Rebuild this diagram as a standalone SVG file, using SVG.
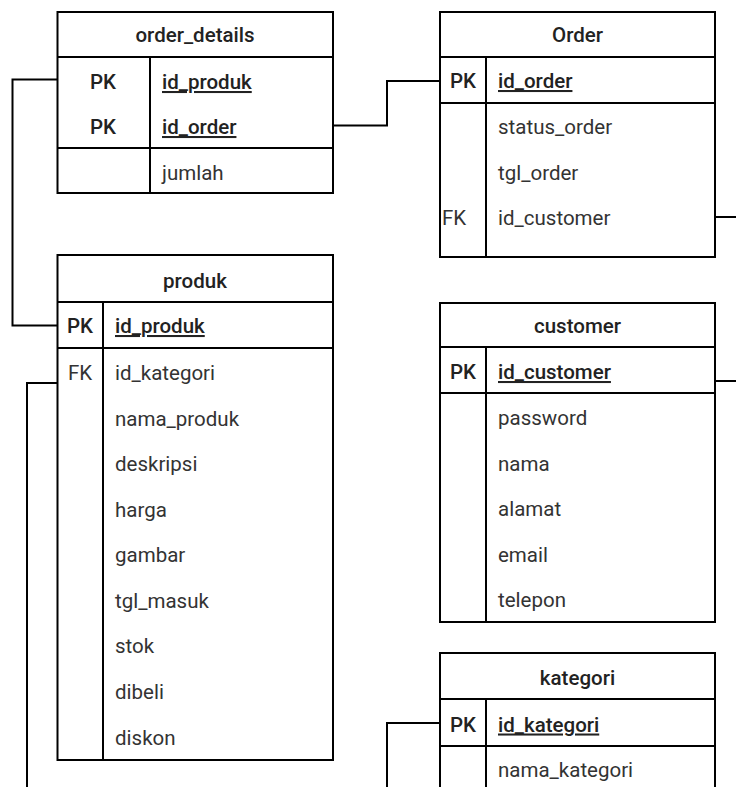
<svg xmlns="http://www.w3.org/2000/svg" width="736" height="787" viewBox="0 0 736 787">
<style>
.box{fill:#fff;stroke:#000;stroke-width:2}
.ln{fill:none;stroke:#000;stroke-width:2}
.con{fill:none;stroke:#000;stroke-width:2}
text{font-family:Roboto,"Liberation Sans",sans-serif;font-size:20.5px;fill:#333}
.h{font-weight:500;text-anchor:middle;fill:#222}
.k{font-weight:500;text-anchor:middle;fill:#222}
.pk{font-weight:500;text-decoration:underline;fill:#222}
.c{text-anchor:middle}
</style>
<rect width="736" height="787" fill="#fff"/>
<g id="connectors">
<path class="con" d="M57.5 79.5H12.5V325.5H57.5"/>
<path class="con" d="M333 125.5H387V81H440"/>
<path class="con" d="M715 217H736"/>
<path class="con" d="M715 381H736"/>
<path class="con" d="M57.5 383H27V787"/>
<path class="con" d="M440 723H387V787"/>
</g>
<g id="order_details">
<rect class="box" x="57.5" y="12" width="275.5" height="181"/>
<path class="ln" d="M57.5 57H333M57.5 148H333M150 57V193"/>
<text class="h" x="195" y="42">order_details</text>
<text class="k" x="103" y="89">PK</text>
<text class="pk" x="162" y="89">id_produk</text>
<text class="k" x="103" y="134">PK</text>
<text class="pk" x="162" y="134">id_order</text>
<text x="162" y="180">jumlah</text>
</g>
<g id="Order">
<rect class="box" x="440" y="12" width="275" height="245"/>
<path class="ln" d="M440 57H715M440 103H715M486 57V257"/>
<text class="h" x="577.5" y="41.5">Order</text>
<text class="k" x="463" y="88">PK</text>
<text class="pk" x="498" y="88">id_order</text>
<text x="498" y="134">status_order</text>
<text x="498" y="180">tgl_order</text>
<text x="442" y="225">FK</text>
<text x="498" y="225">id_customer</text>
</g>
<g id="produk">
<rect class="box" x="57.5" y="255" width="275.5" height="505"/>
<path class="ln" d="M57.5 302H333M57.5 348H333M103 302V760"/>
<text class="h" x="195" y="287.5">produk</text>
<text class="k" x="80" y="333">PK</text>
<text class="pk" x="115" y="333">id_produk</text>
<text class="c" x="80" y="380">FK</text>
<text x="115" y="380">id_kategori</text>
<text x="115" y="426">nama_produk</text>
<text x="115" y="471">deskripsi</text>
<text x="115" y="517">harga</text>
<text x="115" y="562">gambar</text>
<text x="115" y="608">tgl_masuk</text>
<text x="115" y="653">stok</text>
<text x="115" y="699">dibeli</text>
<text x="115" y="745">diskon</text>
</g>
<g id="customer">
<rect class="box" x="440" y="303" width="275" height="319"/>
<path class="ln" d="M440 347H715M440 393H715M486 347V622"/>
<text class="h" x="577.5" y="333">customer</text>
<text class="k" x="463" y="379">PK</text>
<text class="pk" x="498" y="379">id_customer</text>
<text x="498" y="425">password</text>
<text x="498" y="470.5">nama</text>
<text x="498" y="516">alamat</text>
<text x="498" y="561.5">email</text>
<text x="498" y="607">telepon</text>
</g>
<g id="kategori">
<rect class="box" x="440" y="653" width="275" height="150"/>
<path class="ln" d="M440 699H715M440 746H715M486 699V803"/>
<text class="h" x="577.5" y="685">kategori</text>
<text class="k" x="463" y="731.5">PK</text>
<text class="pk" x="498" y="731.5">id_kategori</text>
<text x="498" y="777">nama_kategori</text>
</g>
</svg>
